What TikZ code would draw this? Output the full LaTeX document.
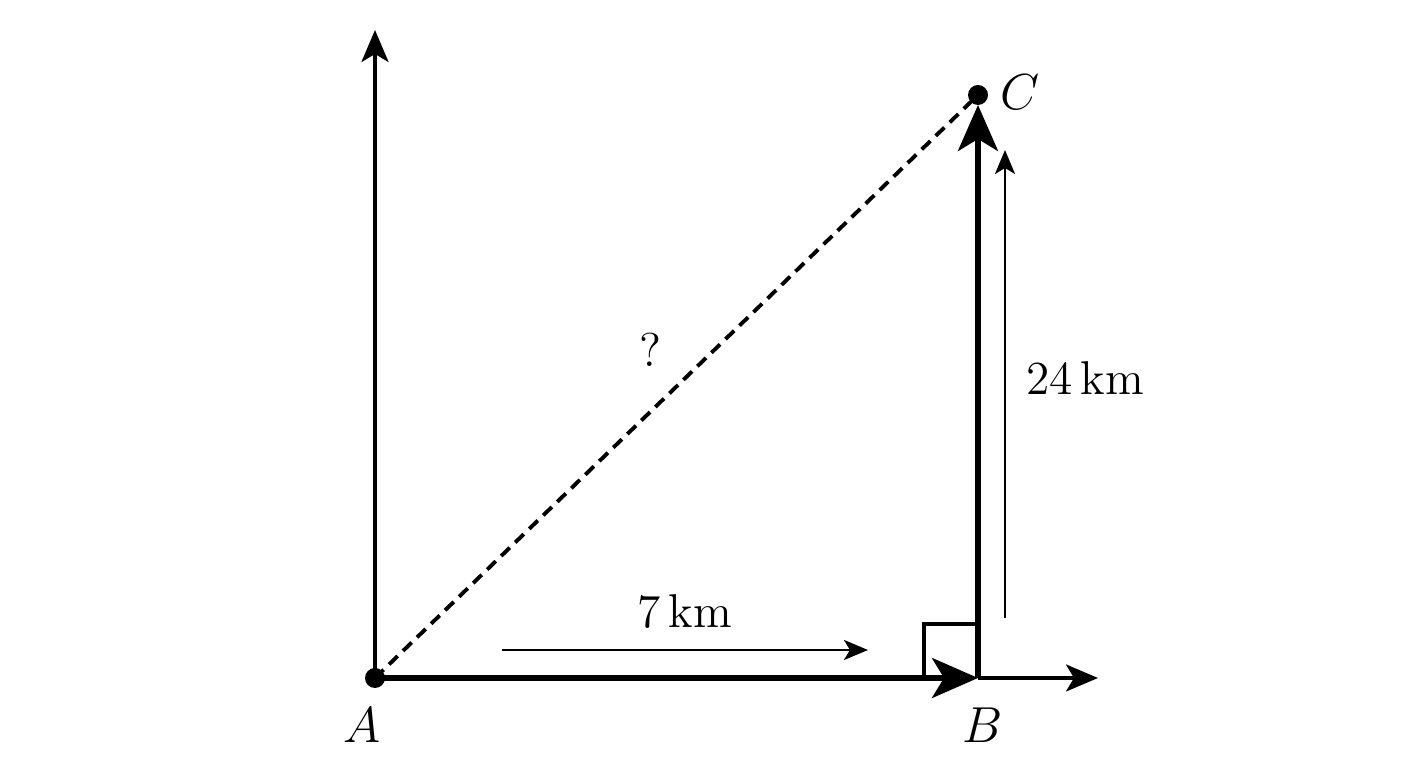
\documentclass[tikz,border=0pt]{standalone}
\usepackage{amsmath}
\usepackage{tikz}
\usetikzlibrary{arrows.meta}
\tikzset{
  bigtip/.style={-{Stealth[length=0.46cm,width=0.40cm,inset=0.12cm]}, line width=1.5pt},
  axistip/.style={-{Stealth[length=0.32cm,width=0.27cm,inset=0.08cm]}, line width=0.9pt},
  smalltip/.style={-{Stealth[length=0.24cm,width=0.20cm,inset=0.06cm]}, line width=0.8pt},
  lbl/.style={font=\fontsize{13.5}{16}\selectfont}
}
\begin{document}
\begin{tikzpicture}
\useasboundingbox (0,0) rectangle (14.08,7.68);
%NODI
\coordinate (a) at (3.75,0.90);
\coordinate (b) at (9.78,0.90);
\coordinate (c) at (9.78,6.73);
\coordinate (ctip) at (9.78,6.63);
\coordinate (ytop) at (3.75,7.38);
\coordinate (xend) at (10.98,0.90);
\coordinate (hs) at (5.02,1.18);
\coordinate (he) at (8.68,1.18);
\coordinate (vs) at (10.05,1.50);
\coordinate (ve) at (10.05,6.18);
%ASSI
\draw[axistip] (a) -- (ytop);
\draw[axistip] (b) -- (xend);
%ANGOLO RETTO
\draw[line width=0.9pt] (9.24,0.90) -- (9.24,1.44) -- (9.78,1.44);
%LINEA TRATTEGGIATA
\draw[line width=1.1pt, dash pattern=on 0.12cm off 0.075cm] (a) -- (c);
%VETTORI
\draw[bigtip] (a) -- (b);
\draw[bigtip] (b) -- (ctip);
\draw[smalltip] (hs) -- (he);
\draw[smalltip] (vs) -- (ve);
%PUNTINI NERI
\fill (a) circle (0.1);
\fill (c) circle (0.1);
%LABEL
\node[lbl] (la) at (3.62,0.43) {$A$};
\node[lbl] (lb) at (9.83,0.43) {$B$};
\node[lbl] (lc) at (10.20,6.76) {$C$};
\node[lbl] (q) at (6.50,4.18) {?};
\node[lbl] (d1) at (6.85,1.56) {7\,km};
\node[lbl] (d2) at (10.85,3.90) {24\,km};
\end{tikzpicture}
\end{document}
